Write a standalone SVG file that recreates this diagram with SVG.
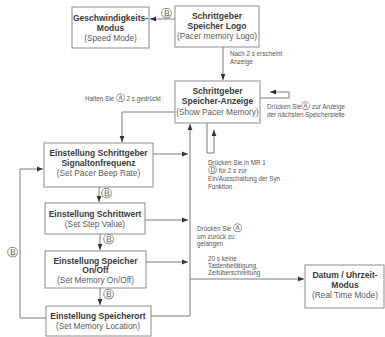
<svg xmlns="http://www.w3.org/2000/svg" width="385" height="337" viewBox="0 0 385 337">
<style>
.box{fill:#fff;stroke:#8c8c8c;stroke-width:1}
.t{font-family:"Liberation Sans",Arial,sans-serif;font-size:8.5px;font-weight:bold;fill:#3a3a3a;text-anchor:middle}
.p{font-family:"Liberation Sans",Arial,sans-serif;font-size:8.3px;fill:#5a5a5a;text-anchor:middle}
.a{font-family:"Liberation Sans",Arial,sans-serif;font-size:6.3px;fill:#555}
.c{font-family:"DejaVu Sans",sans-serif;font-size:10.5px;fill:#555;text-anchor:middle}
.ci{font-family:"DejaVu Sans",sans-serif;font-size:9px}
.ln{fill:none;stroke:#7a7a7a;stroke-width:1}
</style>
<defs>
<marker id="ah" viewBox="0 0 10 10" refX="10" refY="5" markerWidth="6" markerHeight="6" orient="auto" markerUnits="userSpaceOnUse">
<path d="M0,1 L10,5 L0,9 Z" fill="#333"/>
</marker>
</defs>
<rect width="385" height="337" fill="#fff"/>
<g id="connectors">
<path class="ln" d="M175,19 H150" marker-end="url(#ah)"/>
<path class="ln" d="M223,47 V80" marker-end="url(#ah)"/>
<path class="ln" d="M260,98 H289 V92 H270" marker-end="url(#ah)"/>
<path class="ln" d="M175,112 H122 V142" marker-end="url(#ah)"/>
<path class="ln" d="M153,154 H188" marker-end="url(#ah)"/>
<path class="ln" d="M145,220 H188" marker-end="url(#ah)"/>
<path class="ln" d="M146,262 H188" marker-end="url(#ah)"/>
<path class="ln" d="M151,316 H190 V124" marker-end="url(#ah)"/>
<path class="ln" d="M207,123 V153 H214 V130" marker-end="url(#ah)"/>
<path class="ln" d="M190,279 H304" marker-end="url(#ah)"/>
<path class="ln" d="M99,187 V202" marker-end="url(#ah)"/>
<path class="ln" d="M100,234 V250" marker-end="url(#ah)"/>
<path class="ln" d="M100,288 V305" marker-end="url(#ah)"/>
<path class="ln" d="M46,318 H20 V169 H43" marker-end="url(#ah)"/>
<text class="c" x="166" y="17">Ⓑ</text>
<text class="c" x="106" y="197">Ⓑ</text>
<text class="c" x="108" y="243">Ⓑ</text>
<text class="c" x="108" y="298">Ⓑ</text>
<text class="c" x="12" y="256">Ⓑ</text>
<text class="a" x="230" y="56">Nach 2 s erscheint</text>
<text class="a" x="230" y="64">Anzeige</text>
<text class="a" x="85" y="101">Halten Sie <tspan class="ci">Ⓐ</tspan> 2 s gedrückt</text>
<text class="a" x="267" y="109">Drücken Sie<tspan class="ci">Ⓐ</tspan>  zur Anzeige</text>
<text class="a" x="267" y="117">der nächsten Speicherstelle</text>
<text class="a" x="208" y="165">Drücken Sie in MR 1</text>
<text class="a" x="208" y="173"><tspan class="ci">Ⓓ</tspan> für 2 s  zur</text>
<text class="a" x="208" y="181">Ein/Ausschaltung  der Syn</text>
<text class="a" x="208" y="189">Funktion</text>
<text class="a" x="197" y="231">Drücken Sie <tspan class="ci">Ⓐ</tspan></text>
<text class="a" x="197" y="239">um zurück zu</text>
<text class="a" x="197" y="246">gelangen</text>
<text class="a" x="208" y="261">20 s keine</text>
<text class="a" x="208" y="268">Tastenbetätigung,</text>
<text class="a" x="208" y="275">Zeitüberschreitung</text>
</g>
<g id="speed">
<rect class="box" x="72" y="7" width="77" height="41"/>
<text class="t" x="110.5" y="21">Geschwindigkeits-</text>
<text class="t" x="110.5" y="31">Modus</text>
<text class="p" x="110.5" y="41">(Speed Mode)</text>
</g>
<g id="logo">
<rect class="box" x="175" y="6" width="84" height="41"/>
<text class="t" x="217" y="19">Schrittgeber</text>
<text class="t" x="217" y="29">Speicher Logo</text>
<text class="p" x="217" y="39">(Pacer memory Logo)</text>
</g>
<g id="show">
<rect class="box" x="175" y="81" width="85" height="42"/>
<text class="t" x="217.5" y="94">Schrittgeber</text>
<text class="t" x="217.5" y="104">Speicher-Anzeige</text>
<text class="p" x="217.5" y="115">(Show Pacer Memory)</text>
</g>
<g id="beep">
<rect class="box" x="44" y="143" width="109" height="44"/>
<text class="t" x="98.5" y="156">Einstellung Schrittgeber</text>
<text class="t" x="98.5" y="166">Signaltonfrequenz</text>
<text class="p" x="98.5" y="176">(Set Pacer Beep Rate)</text>
</g>
<g id="step">
<rect class="box" x="45" y="203" width="100" height="31"/>
<text class="t" x="95" y="217">Einstellung Schrittwert</text>
<text class="p" x="95" y="227">(Set Step Value)</text>
</g>
<g id="onoff">
<rect class="box" x="45" y="251" width="101" height="37"/>
<text class="t" x="95.5" y="264">Einstellung Speicher</text>
<text class="t" x="95.5" y="273">On/Off</text>
<text class="p" x="95.5" y="283">(Set Memory On/Off)</text>
</g>
<g id="location">
<rect class="box" x="46" y="306" width="105" height="30"/>
<text class="t" x="98" y="319">Einstellung Speicherort</text>
<text class="p" x="98" y="329">(Set Memory Location)</text>
</g>
<g id="realtime">
<rect class="box" x="305" y="265" width="79" height="43"/>
<text class="t" x="345" y="278">Datum / Uhrzeit-</text>
<text class="t" x="345" y="288">Modus</text>
<text class="p" x="345" y="298">(Real Time Mode)</text>
</g>
</svg>
